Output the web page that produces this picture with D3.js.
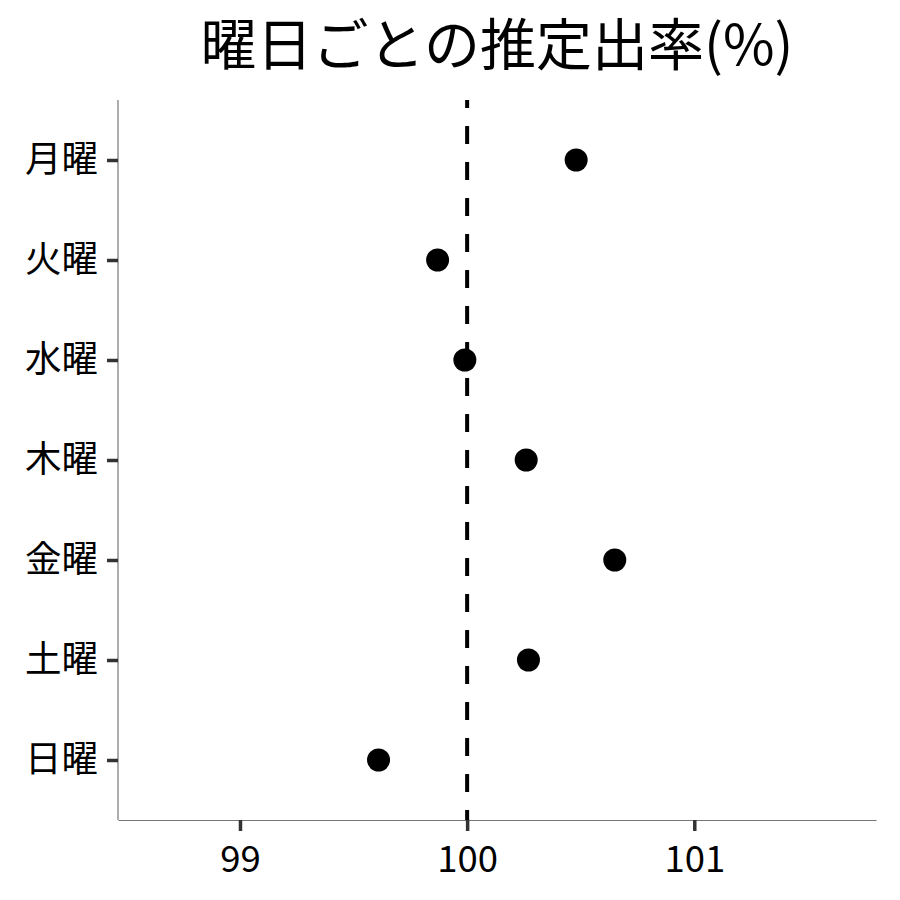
<!DOCTYPE html>
<html>
<head>
<meta charset="utf-8">
<script src="https://cdn.jsdelivr.net/npm/d3@7"></script>
<style>
    body { margin: 0; background: #fff; }
    svg text { font-family: "Noto Sans CJK JP", "Noto Sans", sans-serif; fill: #000; }
    .axis path { stroke: #777; stroke-width: 1.2px; }
    .axis line { stroke: #333; stroke-width: 3.5px; }
    .axis text { font-size: 36.5px; }
</style>
</head>
<body>
<div id="chart"></div>
<script>
// estimated rates per weekday
const days = ['月曜', '火曜', '水曜', '木曜', '金曜', '土曜', '日曜'];
const rates = [100.48, 99.87, 99.99, 100.26, 100.65, 100.27, 99.61];
const xTicks = [99, 100, 101];
const refValue = 100;

const width = 900;
const height = 900;
const margin = { top: 100, right: 24, bottom: 80, left: 118 };

const svg = d3.select('#chart').append('svg')
    .attr('width', width)
    .attr('height', height);

const x = d3.scaleLinear()
    .domain([98.463, 101.80])
    .range([margin.left, width - margin.right]);

// discrete axis with 0.6 unit padding each side like ggplot
const y = d3.scalePoint()
    .domain(days)
    .range([margin.top + 60, height - margin.bottom - 60]);

svg.append('text')
    .attr('x', (margin.left + width - margin.right) / 2)
    .attr('y', 65)
    .attr('text-anchor', 'middle')
    .style('font-size', '56px')
    .text('曜日ごとの推定出率(%)');

svg.append('g')
    .attr('class', 'axis')
    .attr('transform', 'translate(0,' + (height - margin.bottom) + ')')
    .call(d3.axisBottom(x).tickValues(xTicks).tickFormat(d3.format('d'))
        .tickSize(11).tickSizeOuter(0).tickPadding(6))
    .call(g => g.selectAll('text').attr('dy', '0.95em'));

svg.append('g')
    .attr('class', 'axis')
    .attr('transform', 'translate(' + margin.left + ',0)')
    .call(d3.axisLeft(y).tickSize(11).tickSizeOuter(0).tickPadding(9))
    .call(g => g.select('.domain').attr('d', 'M0,' + margin.top + 'V' + (height - margin.bottom)));

svg.append('line')
    .attr('x1', x(refValue))
    .attr('x2', x(refValue))
    .attr('y1', margin.top)
    .attr('y2', height - margin.bottom)
    .attr('stroke', '#000')
    .attr('stroke-width', 4)
    .attr('stroke-dasharray', '18,18')
    .attr('stroke-dashoffset', 10);

svg.append('g')
    .selectAll('circle')
    .data(days)
    .join('circle')
        .attr('cx', (d, i) => x(rates[i]))
        .attr('cy', d => y(d))
        .attr('r', 11.5)
        .attr('fill', '#000');
</script>
</body>
</html>
